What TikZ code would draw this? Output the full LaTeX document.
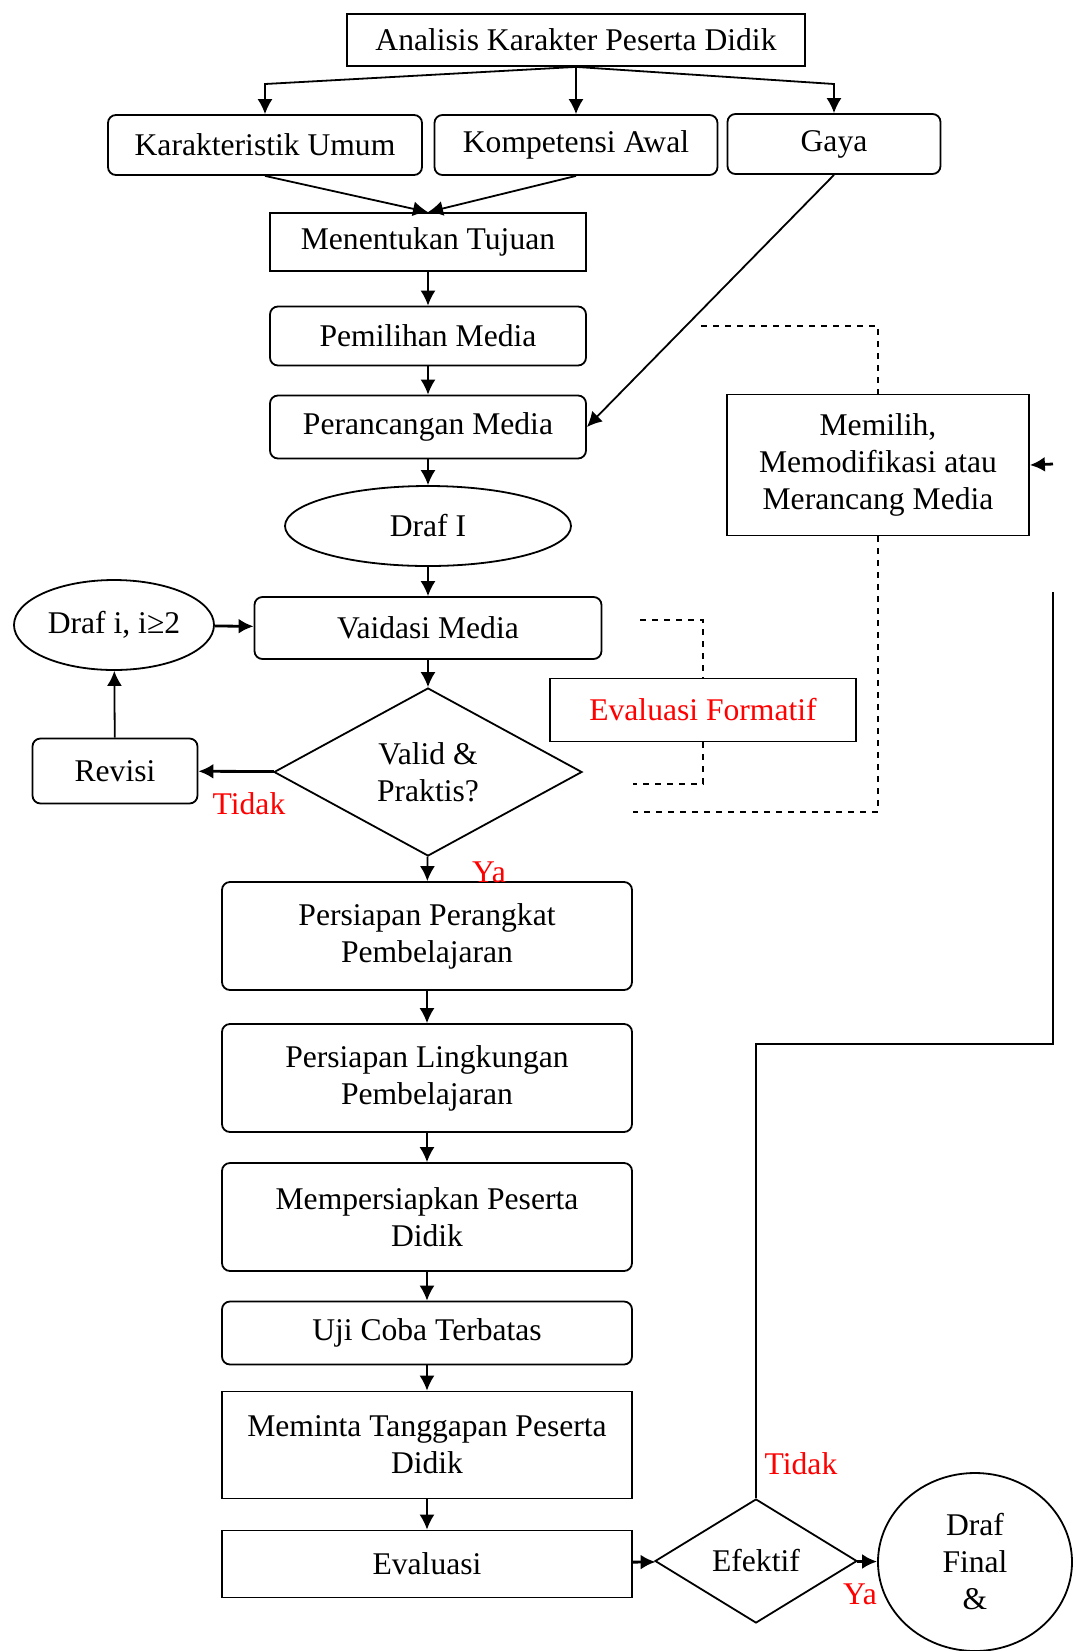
\documentclass[tikz,border=0pt]{standalone}
\usepackage{fontspec}
\setmainfont{Liberation Serif}
\usetikzlibrary{arrows.meta,shapes.geometric}

\begin{document}
\begin{tikzpicture}
  [x=0.5pt,y=-0.5pt,line width=0.9pt,>={Latex[length=7.5pt,width=7.5pt]},
   every node/.style={draw,align=center,inner sep=2pt,font=\fontsize{15.8pt}{18.5pt}\selectfont},
   kotak/.style={rectangle},
   rkotak/.style={rectangle,rounded corners=4pt},
   elips/.style={ellipse},
   belah/.style={diamond,inner sep=0pt},
   ket/.style={draw=none,text=red}]
  \useasboundingbox (0,0) rectangle (1076,1651);

  \node[kotak,minimum width=229pt,minimum height=26pt] (ana) at (576,40) {Analisis Karakter Peserta Didik};
  \node[rkotak,minimum width=157pt,minimum height=30pt] (ku) at (265,145) {Karakteristik Umum};
  \node[rkotak,minimum width=141.5pt,minimum height=30pt] (ka) at (576,145) {Kompetensi Awal};
  \node[rkotak,minimum width=106.5pt,minimum height=30pt] (gaya) at (834,144) {Gaya};
  \node[kotak,minimum width=158pt,minimum height=29pt] (tujuan) at (428,242) {Menentukan Tujuan};
  \node[rkotak,minimum width=158pt,minimum height=29.5pt] (pilih) at (428,336) {Pemilihan Media};
  \node[rkotak,minimum width=158pt,minimum height=31.5pt] (rancang) at (428,427) {Perancangan Media};
  \node[elips,minimum width=143pt,minimum height=40pt] (draf1) at (428,526) {Draf I};
  \node[rkotak,minimum width=173.5pt,minimum height=31pt] (valid) at (428,628) {Vaidasi Media};
  \node[elips,minimum width=100pt,minimum height=45pt,inner sep=0pt] (drafi) at (114,625) {Draf i, i≥2};
  \node[belah,minimum width=154pt,minimum height=84pt] (cek) at (428,772) {Valid \&\\Praktis?};
  \node[rkotak,minimum width=82.5pt,minimum height=32.5pt] (revisi) at (115,771) {Revisi};
  \node[kotak,minimum width=153pt,minimum height=31.5pt,text=red] (formatif) at (703,710) {Evaluasi Formatif};
  \node[kotak,minimum width=151pt,minimum height=70.5pt] (memilih) at (878,465) {Memilih,\\Memodifikasi atau\\Merancang Media};
  \node[rkotak,minimum width=205pt,minimum height=54pt] (ppp) at (427,936) {Persiapan Perangkat\\Pembelajaran};
  \node[rkotak,minimum width=205pt,minimum height=54pt] (plp) at (427,1078) {Persiapan Lingkungan\\Pembelajaran};
  \node[rkotak,minimum width=205pt,minimum height=54pt] (mpd) at (427,1217) {Mempersiapkan Peserta\\Didik};
  \node[rkotak,minimum width=205pt,minimum height=31.5pt] (uct) at (427,1333) {Uji Coba Terbatas};
  \node[kotak,minimum width=205pt,minimum height=53.5pt] (mtpd) at (427,1445) {Meminta Tanggapan Peserta\\Didik};
  \node[kotak,minimum width=205pt,minimum height=33.5pt] (eval) at (427,1564) {Evaluasi};
  \node[belah,minimum width=101pt,minimum height=62pt] (efektif) at (756,1561) {Efektif};
  \node[elips,minimum width=97pt,minimum height=89pt,inner sep=0pt] (final) at (975,1562) {Draf\\Final\\\&};

  \node[ket] (t1) at (249,804) {Tidak};
  \node[ket] (y1) at (489,872) {Ya};
  \node[ket] (t2) at (801,1464) {Tidak};
  \node[ket] (y2) at (860,1594) {Ya};

  \coordinate (masuk) at (1053,464);
  \coordinate (balik) at (1053,592);

  \draw[->] (ana.south) -- (ku.north |- 0,84) -- (ku.north);
  \draw[->] (ana.south) -- (gaya.north |- 0,84) -- (gaya.north);
  \draw[->] (ku.south) -- (tujuan.north);
  \draw[->] (ka.south) -- (tujuan.north);
  \draw[->] (gaya.south) -- (rancang.east);

  \foreach \from/\to in {ana/ka, tujuan/pilih, pilih/rancang, rancang/draf1, draf1/valid, valid/cek, cek/ppp, ppp/plp, plp/mpd, mpd/uct, uct/mtpd, mtpd/eval, revisi/drafi}
    \draw[->] (\from) -- (\to);
  \foreach \from/\to in {drafi/valid, cek/revisi, eval/efektif, efektif/final}
    \draw[->,line width=1.4pt] (\from) -- (\to);

  \draw (efektif.north) |- (1053,1044) -- (balik);
  \draw[->,line width=1.4pt] (masuk) -- (memilih.east);

  \draw[dashed] (640,620) -| (formatif.north);
  \draw[dashed] (formatif.south) |- (633,784);
  \draw[dashed] (701,326) -| (memilih.north);
  \draw[dashed] (memilih.south) |- (633,812);

\end{tikzpicture}
\end{document}
